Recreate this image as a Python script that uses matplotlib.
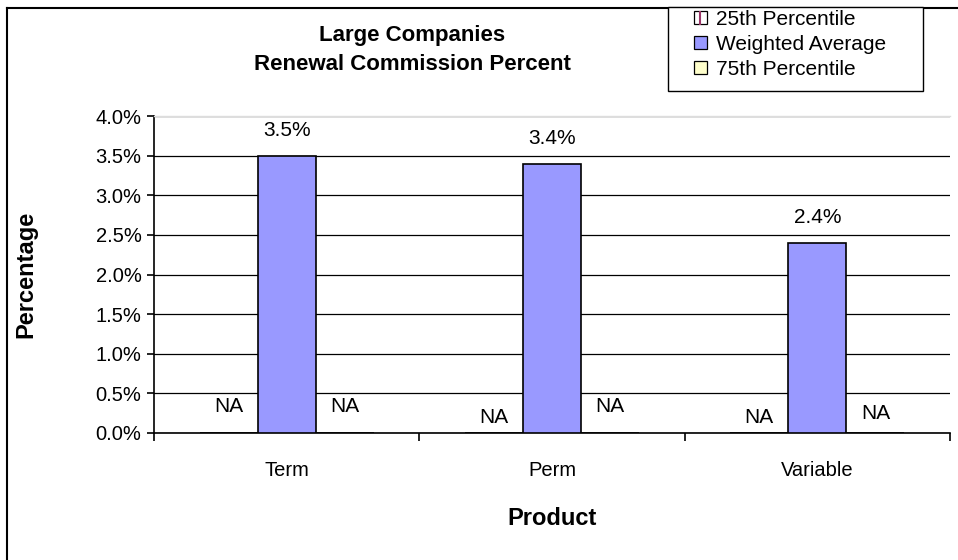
import matplotlib
matplotlib.use("Agg")
import matplotlib.pyplot as plt
import numpy as np
from matplotlib.patches import Patch, Rectangle
from matplotlib.lines import Line2D
from matplotlib.legend_handler import HandlerTuple

products = ["Term", "Perm", "Variable"]
series_names = ["25th Percentile", "Weighted Average", "75th Percentile"]
p25 = [np.nan, np.nan, np.nan]
weighted_avg = [3.5, 3.4, 2.4]
p75 = [np.nan, np.nan, np.nan]
yticks = [0.0, 0.5, 1.0, 1.5, 2.0, 2.5, 3.0, 3.5, 4.0]

plt.rcParams['font.family'] = ['Liberation Sans', 'DejaVu Sans']
FS = 15

fig = plt.figure(figsize=(9.58, 5.6), dpi=100)
ax = fig.add_axes([154 / 958, 1 - 433 / 560, 796 / 958, 317 / 560])

x = np.arange(len(products))
w = 0.219
colors = ["#FFFFFF", "#9999FF", "#FFFFCC"]

ax.set_axisbelow(True)
ax.yaxis.grid(True, color="black", linewidth=0.9)
for i, vals in enumerate([p25, weighted_avg, p75]):
    vals = np.array(vals, dtype=float)
    ax.bar(x + (i - 1) * w, np.nan_to_num(vals), w, color=colors[i],
           edgecolor="black", linewidth=1.2, zorder=3)

# value labels
for xi, v in zip(x, weighted_avg):
    ax.annotate(f"{v:.1f}%", (xi, v), xytext=(0, 18), textcoords="offset points",
                ha="center", va="center", fontsize=FS)

# NA labels for the empty percentile series (Excel stagger)
na_left_y = [0.34, 0.19, 0.19]
na_right_y = [0.34, 0.34, 0.25]
for xi, yl, yr in zip(x, na_left_y, na_right_y):
    ax.text(xi - w, yl, "NA", ha="center", va="center", fontsize=FS)
    ax.text(xi + w, yr, "NA", ha="center", va="center", fontsize=FS)

ax.set_xlim(-0.5, 2.5)
ax.set_ylim(0, 4.0)
ax.set_yticks(yticks)
ax.set_yticklabels([f"{t:.1f}%" for t in yticks], fontsize=14.5)
ax.set_xticks(x)
ax.set_xticklabels(products, fontsize=14.5)
ax.set_xticks([-0.5, 0.5, 1.5, 2.5], minor=True)
ax.tick_params(axis="x", which="major", length=0, pad=20)
ax.tick_params(axis="x", which="minor", length=6, direction="out", width=1.2)
ax.tick_params(axis="y", length=5, direction="out", width=1.2, pad=4)

for s in ["top", "right"]:
    ax.spines[s].set_visible(False)
ax.spines["left"].set_linewidth(1.2)
ax.spines["bottom"].set_linewidth(1.2)
ax.axhline(4.0, color="#DDDDDD", linewidth=1.0, zorder=4, clip_on=False)

ax.set_xlabel("Product", fontsize=17, fontweight="bold")
ax.xaxis.set_label_coords(0.5, -(507 - 433) / 317)
ax.set_ylabel("Percentage", fontsize=17, fontweight="bold")
ax.yaxis.set_label_coords((37 - 154) / 796, 0.5)

fig.text(412 / 958, 1 - 50 / 560, "Large Companies\nRenewal Commission Percent",
         ha="center", va="center", fontsize=16, fontweight="bold", linespacing=1.5)

# outer chart frame (only top and left edges visible)
fig.add_artist(Line2D([7 / 958, 1.0], [1 - 8 / 560, 1 - 8 / 560], color="black", linewidth=1.5))
fig.add_artist(Line2D([7 / 958, 7 / 958], [0, 1 - 8 / 560], color="black", linewidth=1.5))

# legend box
fig.add_artist(Rectangle((668 / 958, 1 - 91 / 560), 255 / 958, 84 / 560,
                         transform=fig.transFigure, facecolor="white",
                         edgecolor="black", linewidth=1.0, zorder=5))
h25 = (Patch(facecolor="white", edgecolor="black", linewidth=0.9),
       Line2D([], [], color="#993366", marker="|", markersize=10,
              markeredgewidth=1.5, linestyle="none"))
hw = Patch(facecolor=colors[1], edgecolor="black", linewidth=0.9)
h75 = Patch(facecolor=colors[2], edgecolor="black", linewidth=0.9)
leg = fig.legend([h25, hw, h75], series_names,
                 handler_map={tuple: HandlerTuple(ndivide=1, pad=0)},
                 loc="upper left", bbox_to_anchor=(694 / 958, 1 - 10 / 560),
                 fontsize=FS, frameon=False, handlelength=0.6,
                 handleheight=0.6, handletextpad=0.45, labelspacing=0.28,
                 borderpad=0.0, borderaxespad=0)
leg.set_zorder(6)

fig.savefig("out.png", dpi=100)
